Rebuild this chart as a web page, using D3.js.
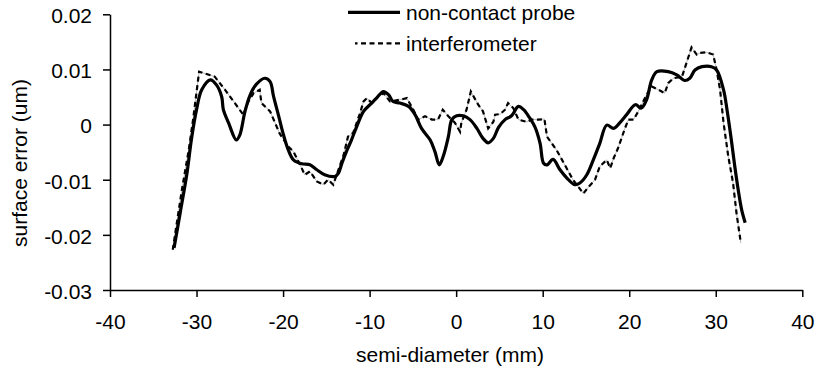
<!DOCTYPE html>
<html>
<head>
<meta charset="utf-8">
<script src="https://cdnjs.cloudflare.com/ajax/libs/d3/7.8.5/d3.min.js"></script>
<style>
body { margin: 0; background: #fff; }
.canvas text { font-family: "Liberation Sans", Arial, sans-serif; fill: #000; }
</style>
</head>
<body>
<div id="canvas_surface"></div>
<script>
// ----------------------------------------------------------
// DATA -----------------------------------------------------
// ----------------------------------------------------------
var x_ticks = [-40, -30, -20, -10, 0, 10, 20, 30, 40];
var y_ticks = [0.02, 0.01, 0, -0.01, -0.02, -0.03];
var series_names = ["non-contact probe", "interferometer"];

// non-contact probe (semi-diameter mm, surface error)
var probe_x = [-32.6, -31.9, -31.1, -30.6, -30.0, -29.4, -28.4, -27.7, -27.1, -26.9,
  -26.3, -25.4, -25.0, -24.4, -23.8, -23.1, -22.1, -21.5, -21.1, -20.5,
  -20.0, -19.4, -18.8, -17.85, -16.9, -16.1, -15.2, -14.0, -13.6, -13.2,
  -12.6, -12.1, -11.5, -10.7, -9.95, -9.2, -8.4, -7.8, -7.3, -6.5,
  -5.5, -4.75, -4.0, -3.0, -2.45, -1.95, -1.5, -0.9, -0.5, 0.06,
  0.8, 1.6, 2.4, 3.1, 3.7, 4.3, 4.9, 5.65, 6.4, 7.2,
  7.8, 8.5, 9.1, 9.7, 10.1, 10.5, 11.2, 12.0, 12.8, 13.7,
  14.3, 15.1, 15.85, 16.6, 17.4, 18.2, 18.9, 19.7, 20.7, 21.4,
  22.0, 22.6, 23.2, 24.5, 25.5, 26.4, 27.0, 27.6, 28.4, 29.5,
  30.1, 30.9, 31.3, 31.8, 32.2, 32.6, 33.0, 33.4];
var probe_y = [-0.0224, -0.0161, -0.0088, -0.0028, 0.0027, 0.0063, 0.0081, 0.0072, 0.0051, 0.0027,
  0.0003, -0.0028, -0.0019, 0.0024, 0.0054, 0.0073, 0.0084, 0.0078, 0.0051, 0.0015,
  -0.0016, -0.0046, -0.0064, -0.0071, -0.0073, -0.0082, -0.0091, -0.0094, -0.0088, -0.0070,
  -0.0046, -0.0028, -0.0004, 0.0024, 0.0036, 0.0048, 0.0060, 0.0054, 0.0042, 0.0039,
  0.0033, 0.0018, -0.0007, -0.0028, -0.0049, -0.0073, -0.0058, -0.0022, 0.0009, 0.0016,
  0.0016, 0.0009, -0.0007, -0.0025, -0.0033, -0.0025, -0.0005, 0.0009, 0.0016, 0.0033,
  0.0027, 0.0012, -0.0004, -0.0034, -0.0070, -0.0073, -0.0063, -0.0082, -0.0097, -0.0109,
  -0.0106, -0.0091, -0.0064, -0.0034, -0.0001, -0.0007, 0.0003, 0.0018, 0.0036, 0.0030,
  0.0045, 0.0081, 0.0096, 0.0096, 0.0090, 0.0080, 0.0084, 0.0099, 0.0105, 0.0105,
  0.0099, 0.0063, 0.0027, -0.0028, -0.0076, -0.0119, -0.0155, -0.0178];

// interferometer
var interf_x = [-32.75, -31.7, -30.9, -30.4, -29.7, -27.9, -26.7, -24.6, -24.0, -23.4,
  -22.7, -22.5, -21.5, -20.4, -19.4, -18.8, -17.85, -17.5, -16.9, -16.1,
  -15.35, -14.8, -14.2, -13.8, -13.0, -12.5, -11.9, -11.1, -10.7, -10.3,
  -9.75, -9.0, -8.4, -7.65, -6.5, -5.7, -4.95, -4.4, -3.6, -2.8,
  -2.1, -1.55, -0.9, -0.13, 0.45, 0.6, 1.2, 1.7, 2.55, 3.1,
  3.7, 4.3, 4.5, 5.1, 5.65, 6.0, 6.6, 7.2, 8.15, 8.7,
  9.5, 10.2, 10.5, 11.6, 13.5, 14.7, 15.3, 16.05, 16.6, 17.4,
  17.8, 18.2, 18.7, 19.5, 19.9, 20.5, 21.05, 22.0, 22.6, 23.4,
  24.1, 24.5, 25.1, 26.1, 26.6, 27.2, 27.8, 28.2, 28.95, 29.7,
  30.1, 30.5, 30.9, 31.45, 32.0, 32.4, 32.9];
var interf_y = [-0.0227, -0.0119, -0.0046, 0.0009, 0.0096, 0.0087, 0.0063, 0.0018, 0.0042, 0.0057,
  0.0063, 0.0039, 0.0024, -0.0016, -0.0040, -0.0049, -0.0079, -0.0091, -0.0085, -0.0103,
  -0.0109, -0.0100, -0.0109, -0.0091, -0.0055, -0.0022, -0.0015, 0.0021, 0.0042, 0.0048,
  0.0039, 0.0051, 0.0057, 0.0042, 0.0045, 0.0048, 0.0027, 0.0009, 0.0015, 0.0009,
  0.0009, 0.0027, 0.0015, 0.0003, -0.0013, 0.0003, 0.0027, 0.0060, 0.0036, 0.0024,
  -0.0007, 0.0005, 0.0018, 0.0019, 0.0027, 0.0039, 0.0030, 0.0009, 0.0005, 0.0009,
  0.0009, 0.0010, -0.0022, -0.0046, -0.0100, -0.0125, -0.0113, -0.0100, -0.0076, -0.0064,
  -0.0079, -0.0061, -0.0043, -0.0007, 0.0009, 0.0009, 0.0024, 0.0054, 0.0069, 0.0063,
  0.0057, 0.0075, 0.0084, 0.0087, 0.0111, 0.0140, 0.0127, 0.0130, 0.0131, 0.0127,
  0.0099, 0.0063, 0.0003, -0.0058, -0.0106, -0.0161, -0.0215];

// ----------------------------------------------------------
// STRUCTURE ------------------------------------------------
// ----------------------------------------------------------
var width = 822, height = 377;
var margin = { top: 14.3, right: 20, bottom: 87, left: 110 };
var area_width = 802.3 - margin.left;
var area_height = 290 - margin.top;

var svg = d3.select("#canvas_surface").append("svg")
  .attr("width", width)
  .attr("height", height)
  .attr("class", "canvas")
  .style("background-color", "#fff");

var plot = svg.append("g")
  .attr("transform", `translate(${margin.left}, ${margin.top})`);

var xScale = d3.scaleLinear().domain([-40, 40]).range([0, area_width]);
var yScale = d3.scaleLinear().domain([-0.03, 0.02]).range([area_height, 0]);

// ----------------------------------------------------------
// AXES -----------------------------------------------------
// ----------------------------------------------------------
plot.append("g")
  .attr("transform", `translate(0, ${area_height})`)
  .call(d3.axisBottom(xScale)
    .tickValues(x_ticks)
    .tickSize(7)
    .tickSizeOuter(0)
    .tickPadding(17)
    .tickFormat(function(d) { return String(d); }))
  .call(styleAxis);

plot.append("g")
  .call(d3.axisLeft(yScale)
    .tickValues(y_ticks)
    .tickSize(7)
    .tickSizeOuter(0)
    .tickPadding(11)
    .tickFormat(function(d) { return d === 0 ? "0" : d.toFixed(2); }))
  .call(styleAxis)
  .selectAll(".tick text").attr("dy", "0.4em");

function styleAxis(g) {
  g.select(".domain").attr("stroke", "#000").attr("stroke-width", 1.5);
  g.selectAll(".tick line").attr("stroke", "#000").attr("stroke-width", 1.5);
  g.selectAll(".tick text")
    .style("font-family", "'Liberation Sans', Arial, sans-serif")
    .style("font-size", "21px")
    .attr("fill", "#000");
}

// ----------------------------------------------------------
// GFX ------------------------------------------------------
// ----------------------------------------------------------
var probe_data = probe_x.map(function(x, i) { return [x, probe_y[i]]; });
var interf_data = interf_x.map(function(x, i) { return [x, interf_y[i]]; });

var line_linear = d3.line()
  .x(function(d) { return xScale(d[0]); })
  .y(function(d) { return yScale(d[1]); });
var line_smooth = d3.line()
  .curve(d3.curveCatmullRom.alpha(0.5))
  .x(function(d) { return xScale(d[0]); })
  .y(function(d) { return yScale(d[1]); });

// thin grey trace under the dashes
plot.append("path")
  .datum(interf_data)
  .attr("d", line_linear)
  .attr("fill", "none")
  .attr("stroke", "#9a9a9a")
  .attr("stroke-width", 0.7);

plot.append("path")
  .datum(interf_data)
  .attr("d", line_linear)
  .attr("fill", "none")
  .attr("stroke", "#000")
  .attr("stroke-width", 2.2)
  .attr("stroke-dasharray", "5,3.5");

plot.append("path")
  .datum(probe_data)
  .attr("d", line_smooth)
  .attr("fill", "none")
  .attr("stroke", "#000")
  .attr("stroke-width", 3.2)
  .attr("stroke-linejoin", "round");

// ----------------------------------------------------------
// LEGEND ---------------------------------------------------
// ----------------------------------------------------------
var legend = svg.append("g");
legend.append("line")
  .attr("x1", 348).attr("x2", 400).attr("y1", 12.3).attr("y2", 12.3)
  .attr("stroke", "#000").attr("stroke-width", 3.2);
legend.append("line")
  .attr("x1", 400).attr("x2", 355).attr("y1", 43.3).attr("y2", 43.3)
  .attr("stroke", "#000").attr("stroke-width", 2.2)
  .attr("stroke-dasharray", "5,3.5");
legend.selectAll("text.legend")
  .data(series_names)
  .enter().append("text")
  .attr("class", "legend")
  .attr("x", 406)
  .attr("y", function(d, i) { return 19.5 + i * 31; })
  .style("font-size", "21px")
  .text(function(d) { return d; });

// ----------------------------------------------------------
// TEXT -----------------------------------------------------
// ----------------------------------------------------------
svg.append("text")
  .attr("x", 450)
  .attr("y", 362)
  .attr("text-anchor", "middle")
  .style("font-size", "21px")
  .text("semi-diameter (mm)");

svg.append("text")
  .attr("transform", "translate(27, 163) rotate(-90)")
  .attr("text-anchor", "middle")
  .style("font-size", "21px")
  .text("surface error (um)");
</script>
</body>
</html>
